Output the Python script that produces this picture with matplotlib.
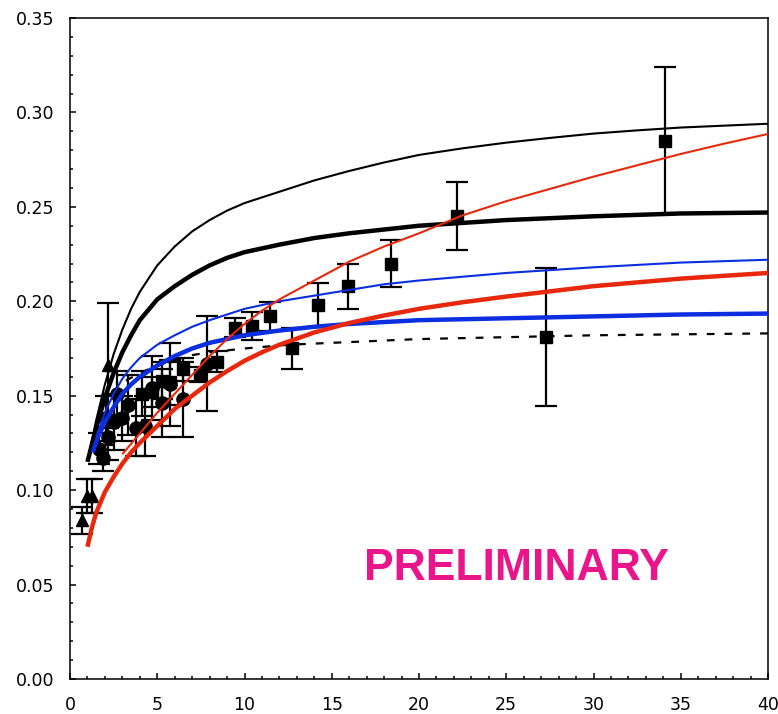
import matplotlib
matplotlib.use("Agg")
import matplotlib.pyplot as plt
from matplotlib.ticker import MultipleLocator, FormatStrFormatter

# measured points: triangles, circles, squares (x, y, symmetric error)
tri_x = [0.7, 0.95, 1.25, 2.2]
tri_y = [0.084, 0.097, 0.097, 0.166]
tri_err = [0.007, 0.009, 0.009, 0.033]

circ_x = [1.65, 1.9, 2.05, 2.2, 2.5, 2.7, 3.0, 3.3, 3.8, 4.3, 4.7, 5.25, 5.75, 6.45, 7.85]
circ_y = [0.122, 0.117, 0.138, 0.128, 0.136, 0.151, 0.138, 0.145, 0.133, 0.134,
          0.154, 0.146, 0.156, 0.148, 0.167]
circ_err = [0.008, 0.007, 0.012, 0.012, 0.015, 0.012, 0.012, 0.016, 0.015, 0.016,
            0.017, 0.018, 0.022, 0.020, 0.025]

sq_x = [4.15, 4.7, 5.25, 5.75, 6.45, 7.45, 8.45, 9.45, 10.45, 11.45, 12.75,
        14.2, 15.95, 18.4, 22.2, 27.3, 34.1]
sq_y = [0.151, 0.152, 0.158, 0.157, 0.164, 0.161, 0.168, 0.186, 0.187, 0.192,
        0.175, 0.198, 0.208, 0.220, 0.245, 0.181, 0.285]
sq_err = [0.012, 0.008, 0.010, 0.012, 0.006, 0.004, 0.0056, 0.005, 0.0075, 0.0075,
          0.011, 0.0115, 0.012, 0.0127, 0.018, 0.0365, 0.039]

# model curves
blk_thin_x = [1, 1.5, 2, 2.5, 3, 3.5, 4, 5, 6, 7, 8, 9, 10, 12, 14, 16, 18, 20,
              22.5, 25, 27.5, 30, 32.5, 35, 37.5, 40]
blk_thin_y = [0.115, 0.137, 0.156, 0.172, 0.185, 0.196, 0.205, 0.219, 0.229, 0.237,
              0.243, 0.248, 0.252, 0.258, 0.264, 0.269, 0.2735, 0.2775, 0.281, 0.284,
              0.2865, 0.2888, 0.2905, 0.292, 0.293, 0.294]

blk_thick_x = [1, 1.5, 2, 2.5, 3, 3.5, 4, 5, 6, 7, 8, 9, 10, 12, 14, 16, 18, 20,
               22.5, 25, 30, 35, 40]
blk_thick_y = [0.115, 0.133, 0.149, 0.162, 0.173, 0.182, 0.190, 0.201, 0.208, 0.214,
               0.219, 0.223, 0.226, 0.230, 0.2335, 0.236, 0.238, 0.240, 0.2415, 0.243,
               0.245, 0.2465, 0.247]

blu_thin_x = [1.5, 2, 2.5, 3, 3.5, 4, 5, 6, 7, 8, 9, 10, 12, 14, 16, 18, 20, 22.5,
              25, 30, 35, 40]
blu_thin_y = [0.128, 0.141, 0.151, 0.159, 0.165, 0.170, 0.177, 0.182, 0.1865, 0.190,
              0.193, 0.196, 0.200, 0.203, 0.206, 0.209, 0.211, 0.213, 0.215, 0.218,
              0.2205, 0.222]

blu_thick_x = [1.3, 1.6, 2, 2.5, 3, 3.5, 4, 5, 6, 7, 8, 9, 10, 12, 14, 16, 20, 25,
               30, 35, 40]
blu_thick_y = [0.120, 0.128, 0.136, 0.144, 0.151, 0.156, 0.160, 0.166, 0.171, 0.175,
               0.178, 0.180, 0.182, 0.1845, 0.1865, 0.188, 0.190, 0.191, 0.192, 0.193,
               0.1935]

red_thin_x = [3, 4, 5, 6, 7, 8, 9, 10, 11, 12, 14, 16, 18, 20, 22.5, 25, 27.5, 30,
              32.5, 35, 37.5, 40]
red_thin_y = [0.119, 0.130, 0.141, 0.151, 0.161, 0.171, 0.180, 0.188, 0.195, 0.201,
              0.211, 0.221, 0.229, 0.236, 0.2455, 0.253, 0.2595, 0.266, 0.272, 0.278,
              0.2835, 0.2886]

red_thick_x = [1, 1.25, 1.5, 2, 2.5, 3, 3.5, 4, 5, 6, 7, 8, 9, 10, 11, 12, 14, 16,
               18, 20, 22.5, 25, 30, 35, 40]
red_thick_y = [0.070, 0.080, 0.088, 0.099, 0.107, 0.114, 0.120, 0.125, 0.134, 0.143,
               0.150, 0.157, 0.163, 0.1685, 0.173, 0.177, 0.1835, 0.1885, 0.1925, 0.196,
               0.1995, 0.2025, 0.208, 0.212, 0.215]

dash_x = [3.2, 4, 5, 6, 7, 8, 10, 12.5, 15, 20, 25, 30, 35, 40]
dash_y = [0.158, 0.162, 0.166, 0.169, 0.1715, 0.173, 0.175, 0.177, 0.178, 0.180,
          0.181, 0.182, 0.1825, 0.183]

RED = "#e8280c"
BLUE = "#0a2ee0"

fig = plt.figure(figsize=(7.78, 7.14), dpi=100)
ax = fig.add_axes([70 / 778, 1 - 679 / 714, 698 / 778, 661 / 714])

eb = dict(ecolor="black", elinewidth=1.6, capsize=8, capthick=1.6,
          linestyle="none", color="black", zorder=2)
ax.errorbar(tri_x, tri_y, yerr=tri_err, fmt="^", markersize=9, **eb)
ax.errorbar(circ_x, circ_y, yerr=circ_err, fmt="o", markersize=9.5, **eb)
ax.errorbar(sq_x, sq_y, yerr=sq_err, fmt="s", markersize=8.5, **eb)

curve = dict(zorder=3, solid_joinstyle="round", solid_capstyle="butt")
ax.plot(dash_x, dash_y, color="black", lw=1.6, dashes=(3.5, 4.5), zorder=3)
ax.plot(blk_thin_x, blk_thin_y, color="black", lw=1.5, **curve)
ax.plot(blk_thick_x, blk_thick_y, color="black", lw=3.2, **curve)
ax.plot(blu_thin_x, blu_thin_y, color=BLUE, lw=1.5, **curve)
ax.plot(blu_thick_x, blu_thick_y, color=BLUE, lw=3.2, **curve)
ax.plot(red_thin_x, red_thin_y, color=RED, lw=1.5, **curve)
ax.plot(red_thick_x, red_thick_y, color=RED, lw=3.2, **curve)

ax.text(25.6, 0.0585, "PRELIMINARY", color="#e8168a", fontsize=32,
        fontweight="bold", family="Liberation Sans", ha="center", va="center")

ax.set_xlim(0, 40)
ax.set_ylim(0, 0.35)
ax.xaxis.set_major_locator(MultipleLocator(5))
ax.xaxis.set_minor_locator(MultipleLocator(1))
ax.yaxis.set_major_locator(MultipleLocator(0.05))
ax.yaxis.set_minor_locator(MultipleLocator(0.01))
ax.yaxis.set_major_formatter(FormatStrFormatter("%.2f"))
ax.tick_params(which="both", direction="in", width=1.1, labelsize=12.5)
ax.tick_params(which="major", length=4)
ax.tick_params(which="minor", length=2.5)
ax.tick_params(axis="x", pad=12)
ax.tick_params(axis="y", pad=11)
for s in ax.spines.values():
    s.set_linewidth(1.1)

fig.savefig("out.png", dpi=100)
